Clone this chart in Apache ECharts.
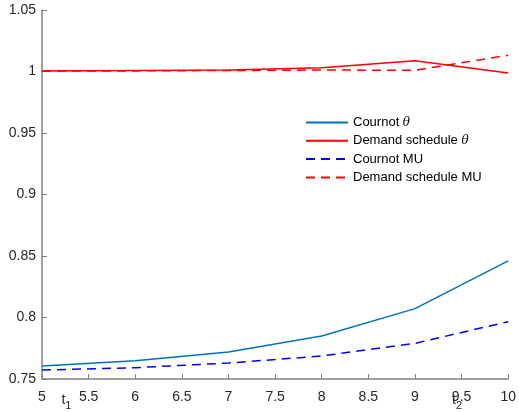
<!DOCTYPE html>
<html>
<head>
<meta charset="utf-8">
<script src="https://cdn.jsdelivr.net/npm/echarts@6/dist/echarts.min.js"></script>
<style>
  html, body { margin: 0; padding: 0; background: #fff; }
  #chart { width: 519px; height: 412px; }
</style>
</head>
<body>
<div id="chart"></div>
<script>
// Time points on the horizontal axis
const tValues = [5, 6, 7, 8, 9, 10];

// Series values
const cournotTheta = [0.7606, 0.7649, 0.7720, 0.7850, 0.8072, 0.8460];
const demandTheta  = [1.0005, 1.0008, 1.0012, 1.0030, 1.0087, 0.9988];
const cournotMU    = [0.7573, 0.7592, 0.7630, 0.7687, 0.7790, 0.7966];
const demandMU     = [1.0003, 1.0005, 1.0008, 1.0012, 1.0010, 1.0132];

const seriesNames = ['Cournot θ', 'Demand schedule θ', 'Cournot MU', 'Demand schedule MU'];

const pairs = vals => tValues.map((t, i) => [t, vals[i]]);

const axisColor = '#808080';
const labelColor = '#262626';
const font = 'Liberation Sans, Arial, Helvetica, sans-serif';

const chart = echarts.init(document.getElementById('chart'), null, { renderer: 'canvas' });

function lineSeries(name, vals, color, type) {
  return {
    name: name,
    type: 'line',
    data: pairs(vals),
    symbol: 'none',
    showSymbol: false,
    animation: false,
    lineStyle: { color: color, width: 1.5, type: type === 'dashed' ? [9, 6] : 'solid' },
    itemStyle: { color: color }
  };
}

chart.setOption({
  backgroundColor: '#fff',
  animation: false,
  grid: { left: 42, right: 9, top: 10, bottom: 33, containLabel: false },
  xAxis: {
    type: 'value',
    min: 5, max: 10, interval: 0.5,
    axisLine: { onZero: false, lineStyle: { color: axisColor, width: 1.5 } },
    axisTick: { inside: true, length: 5, lineStyle: { color: axisColor, width: 1 } },
    axisLabel: { color: labelColor, fontFamily: font, fontSize: 14, margin: 11 },
    splitLine: { show: false }
  },
  yAxis: {
    type: 'value',
    min: 0.75, max: 1.05, interval: 0.05,
    axisLine: { show: true, onZero: false, lineStyle: { color: axisColor, width: 1.5 } },
    axisTick: { show: true, inside: true, length: 5, lineStyle: { color: axisColor, width: 1 } },
    axisLabel: { color: labelColor, fontFamily: font, fontSize: 14, margin: 6 },
    splitLine: { show: false }
  },
  legend: {
    data: seriesNames,
    orient: 'vertical',
    left: 300, top: 111,
    itemWidth: 42, itemHeight: 12, itemGap: 5.3,
    itemStyle: { opacity: 0, borderWidth: 0 },
    textStyle: {
      color: '#000', fontFamily: font, fontSize: 13,
      rich: { i: { fontStyle: 'italic', fontFamily: 'DejaVu Serif, serif', fontSize: 12, color: '#000' } }
    },
    formatter: name => name.replace('θ', '{i|θ}')
  },
  series: [
    lineSeries(seriesNames[0], cournotTheta, '#0072BD', 'solid'),
    lineSeries(seriesNames[1], demandTheta, '#FF0000', 'solid'),
    lineSeries(seriesNames[2], cournotMU, '#0000FF', 'dashed'),
    lineSeries(seriesNames[3], demandMU, '#FF0000', 'dashed')
  ]
});

// Markers t1 and t2 placed below the axis at their time positions
const markers = [{ t: 5.24, sub: '1' }, { t: 9.43, sub: '2' }];
chart.setOption({
  graphic: markers.map(m => {
    const p = chart.convertToPixel({ gridIndex: 0 }, [m.t, 0.75]);
    return {
      type: 'text',
      x: p[0] - 3,
      y: p[1] + 11,
      silent: true,
      style: {
        text: 't{s|' + m.sub + '}',
        fill: labelColor,
        font: '14px ' + font,
        rich: { s: { fontSize: 11, fontFamily: font, fill: labelColor, padding: [10, 0, 0, 0] } }
      }
    };
  })
});
</script>
</body>
</html>
